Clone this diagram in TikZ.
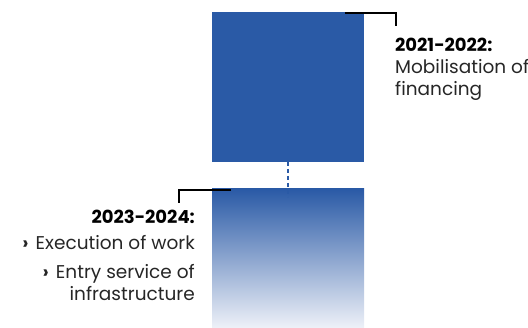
\documentclass[tikz,border=0pt]{standalone}
\usepackage{fontspec}
\setmainfont{Poppins}
\definecolor{boxblue}{HTML}{2A5AA6}
\definecolor{fadeblue}{HTML}{EEF1F8}
\begin{document}
\begin{tikzpicture}[x=1pt,y=-1pt,
  bracket/.style={line width=2pt,black},
  yeartext/.style={font=\fontsize{18}{21}\selectfont\bfseries,inner sep=0pt},
  bodytext/.style={font=\fontsize{18.5}{21}\selectfont,inner sep=0pt,text=black!85}]
\useasboundingbox (0,0) rectangle (528,328);
% boxes
\fill[boxblue] (212,12) rectangle (364,162);
\coordinate (topbox) at (288,162);
\shade[top color=boxblue,bottom color=fadeblue] (212,189) rectangle (364,328);
\coordinate (botbox) at (288,197);
\draw[boxblue,line width=2pt,dash pattern=on 4pt off 3pt] (topbox) -- (botbox);
% brackets
\coordinate (b1a) at (345,13);
\coordinate (b1b) at (396,13);
\coordinate (b1c) at (396,26);
\draw[bracket] (b1a) -- (b1b) -- (b1c);
\coordinate (b2a) at (231,190);
\coordinate (b2b) at (179,190);
\coordinate (b2c) at (179,203);
\draw[bracket] (b2a) -- (b2b) -- (b2c);
% texts top
\node[yeartext,anchor=base west] (y1) at (395,52) {2021-2022:};
\node[bodytext,anchor=base west] (t1) at (395,74) {Mobilisation of};
\node[bodytext,anchor=base west] (t2) at (395,96) {financing};
% texts bottom
\node[yeartext,anchor=base east] (y2) at (195,224) {2023-2024:};
\node[bodytext,anchor=base east] (t3) at (195,250) {{\bfseries ›}\hspace{7pt}Execution of work};
\node[bodytext,anchor=base east] (t4) at (195,279) {{\bfseries ›}\hspace{7pt}Entry service of};
\node[bodytext,anchor=base east] (t5) at (195,301) {infrastructure};
\end{tikzpicture}
\end{document}
